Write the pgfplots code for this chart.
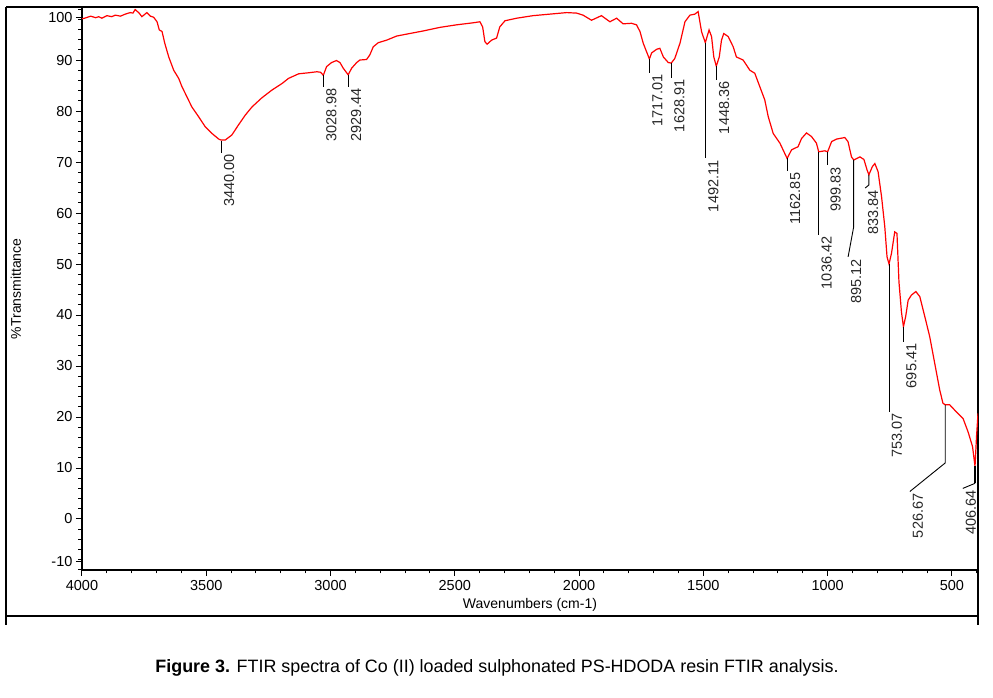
\documentclass[border=0pt]{standalone}
\usepackage{fontspec}
\setmainfont{Liberation Sans}
\usepackage{pgfplots}
\pgfplotsset{compat=1.18}
\begin{document}
\begin{tikzpicture}[x=1pt,y=1pt,
  ann/.style={line width=0.9pt, black},
  lab/.style={xshift=8pt, rotate=90, anchor=east, inner sep=0pt, font=\fontsize{14.5}{14.5}\selectfont, text=black!85}]
\path[use as bounding box] (0,0) rectangle (993,698);
% outer frame
\draw[line width=1.2pt] (6,691) -- (6,73);
\draw[line width=1.2pt] (6,82) -- (978,82);
\draw[line width=1.2pt] (978,691) -- (978,73);
\draw[line width=1.2pt] (6,691) -- (978,691);
\begin{axis}[
  at={(82pt,128pt)}, anchor=south west,
  scale only axis, width=896pt, height=562.5pt,
  x dir=reverse, xmin=395, xmax=4000, ymin=-10, ymax=100.3,
  axis line style={line width=1.6pt, black},
  tick pos=left, tick align=outside,
  xtick={500,1000,...,4000},
  minor xtick={400,500,...,4000},
  ytick={0,10,...,90},
  extra y ticks={-8.4,98.4}, extra y tick labels={-10,100},
  extra y tick style={tick style={line width=1pt, black}},
  minor ytick={-10,-8,...,100},
  major tick length=6pt, minor tick length=3.5pt,
  every tick/.style={line width=1pt, black},
  scaled ticks=false,
  /pgf/number format/assume math mode=true,
  /pgf/number format/1000 sep={},
  tick label style={font=\fontsize{14.5}{14.5}\selectfont, black},
  xticklabel style={yshift=-1pt},
  xlabel={Wavenumbers (cm-1)},
  ylabel={\%Transmittance},
  every axis x label/.style={at={(axis description cs:0.5,-0.0622)}, anchor=center, font=\fontsize{14}{14}\selectfont},
  every axis y label/.style={at={(axis description cs:-0.0737,0.5)}, anchor=center, rotate=90, font=\fontsize{14}{14}\selectfont},
]
\addplot[red, line width=1.2pt, mark=none] coordinates {
(4000,98.1) (3989,98.2) (3965,98.6) (3945,98.3) (3933,98.5) (3920,98.2) (3900,98.7) (3880,98.5) (3866,98.8) (3845,98.6) (3826,99.0) (3806,99.3) (3795,99.2) (3786,99.9) (3770,99.2) (3759,98.5) (3739,99.3) (3725,98.6) (3712,98.4) (3698,97.5) (3689,95.9) (3678,95.6) (3667,93.3) (3651,90.6) (3631,88.0) (3611,86.4) (3598,84.8) (3578,82.8) (3558,80.8) (3531,78.9) (3504,76.9) (3477,75.6) (3450,74.5) (3440,74.3) (3424,74.3) (3397,75.3) (3370,77.3) (3343,79.2) (3316,80.8) (3276,82.6) (3236,84.1) (3195,85.4) (3169,86.4) (3128,87.3) (3088,87.5) (3055,87.7) (3040,87.6) (3029,87.0) (3016,88.7) (2996,89.5) (2976,89.9) (2962,89.5) (2949,88.4) (2929,87.1) (2915,88.4) (2895,89.5) (2882,90.0) (2855,90.1) (2842,91.0) (2828,92.6) (2808,93.4) (2774,93.9) (2734,94.7) (2681,95.2) (2627,95.7) (2560,96.4) (2493,96.9) (2426,97.3) (2399,97.5) (2388,96.5) (2379,93.6) (2370,93.1) (2352,93.9) (2332,94.3) (2319,96.5) (2298,97.7) (2251,98.2) (2185,98.7) (2117,99.0) (2050,99.3) (2010,99.2) (1984,98.8) (1950,97.8) (1910,98.7) (1876,97.5) (1849,98.2) (1823,97.1) (1789,97.2) (1769,96.9) (1755,95.6) (1742,93.3) (1717,90.2) (1708,91.4) (1688,92.1) (1675,92.3) (1661,90.6) (1641,89.5) (1629,89.4) (1615,90.3) (1594,93.3) (1574,97.5) (1554,98.8) (1534,99.0) (1521,99.5) (1507,95.5) (1492,93.4) (1485,94.6) (1477,95.9) (1467,94.6) (1458,90.6) (1448,88.8) (1436,90.6) (1427,93.9) (1418,95.2) (1400,94.6) (1380,92.6) (1367,90.6) (1340,90.0) (1313,88.0) (1293,87.4) (1273,84.8) (1253,82.2) (1239,78.9) (1219,75.6) (1192,73.7) (1163,70.7) (1145,72.4) (1119,73.0) (1105,74.6) (1085,75.7) (1065,75.0) (1045,73.7) (1036,72.0) (1011,72.2) (1000,72.0) (984,74.0) (964,74.5) (931,74.8) (918,74.0) (904,71.0) (895,70.4) (870,71.0) (854,70.5) (841,68.4) (834,67.5) (820,69.1) (810,69.7) (797,68.1) (783,63.2) (770,57.3) (761,51.4) (753,50.0) (743,52.1) (730,56.3) (721,56.0) (713,46.5) (703,40.6) (695,37.7) (686,39.7) (676,42.9) (663,43.9) (645,44.6) (629,43.6) (609,39.7) (589,35.7) (569,30.5) (549,25.3) (536,22.7) (527,22.4) (509,22.4) (482,21.0) (455,19.7) (435,17.1) (417,14.2) (407,10.3) (401,16.1) (395,20.7)
};
% peak annotations
\draw[ann] (axis cs:3440,74.2) -- (axis cs:3440,71.8);
\node[lab] at (axis cs:3440,71.5) {3440.00};
\draw[ann] (axis cs:3028.98,87.0) -- (axis cs:3028.98,84.7);
\node[lab] at (axis cs:3028.98,84.4) {3028.98};
\draw[ann] (axis cs:2929.44,87.0) -- (axis cs:2929.44,84.7);
\node[lab] at (axis cs:2929.44,84.4) {2929.44};
\draw[ann] (axis cs:1717.01,90.2) -- (axis cs:1717.01,87.5);
\node[lab] at (axis cs:1717.01,87.2) {1717.01};
\draw[ann] (axis cs:1628.91,89.4) -- (axis cs:1628.91,86.5);
\node[lab] at (axis cs:1628.91,86.2) {1628.91};
\draw[ann] (axis cs:1492.11,93.4) -- (axis cs:1492.11,70.8);
\node[lab] at (axis cs:1492.11,70.3) {1492.11};
\draw[ann] (axis cs:1448.36,88.8) -- (axis cs:1448.36,86.1);
\node[lab] at (axis cs:1448.36,85.8) {1448.36};
\draw[ann] (axis cs:1162.85,70.7) -- (axis cs:1162.85,68.2);
\node[lab] at (axis cs:1162.85,67.9) {1162.85};
\draw[ann] (axis cs:1036.42,72.0) -- (axis cs:1036.42,55.7);
\node[lab] at (axis cs:1036.42,55.4) {1036.42};
\draw[ann] (axis cs:999.83,72.0) -- (axis cs:999.83,69.4);
\node[lab] at (axis cs:999.83,69.0) {999.83};
\draw[ann] (axis cs:895.12,70.4) -- (axis cs:895.12,57.3) -- (axis cs:917.6,51.4);
\node[lab] at (axis cs:917.6,51.0) {895.12};
\draw[ann] (axis cs:833.84,67.5) -- (axis cs:833.84,65.5) -- (axis cs:849,64.9);
\node[lab] at (axis cs:849,64.5) {833.84};
\draw[ann] (axis cs:753.07,50.0) -- (axis cs:753.07,21.0);
\node[lab] at (axis cs:753.07,20.7) {753.07};
\draw[ann] (axis cs:695.41,37.7) -- (axis cs:695.41,34.8);
\node[lab] at (axis cs:695.41,34.4) {695.41};
\draw[ann] (axis cs:526.67,22.4) -- (axis cs:526.67,11.0) -- (axis cs:669,5.4);
\node[lab] at (axis cs:669,5.0) {526.67};
\draw[ann, line width=1.6pt] (axis cs:406.64,10.3) -- (axis cs:406.64,7.0);
\draw[ann] (axis cs:406.64,7.0) -- (axis cs:456,6.0);
\node[lab] at (axis cs:456,5.6) {406.64};
\end{axis}
\node[anchor=center, font=\fontsize{17.9}{17.9}\selectfont] at (497,30) {\textbf{Figure 3.} FTIR spectra of Co (II) loaded sulphonated PS-HDODA resin FTIR analysis.};
\end{tikzpicture}
\end{document}
